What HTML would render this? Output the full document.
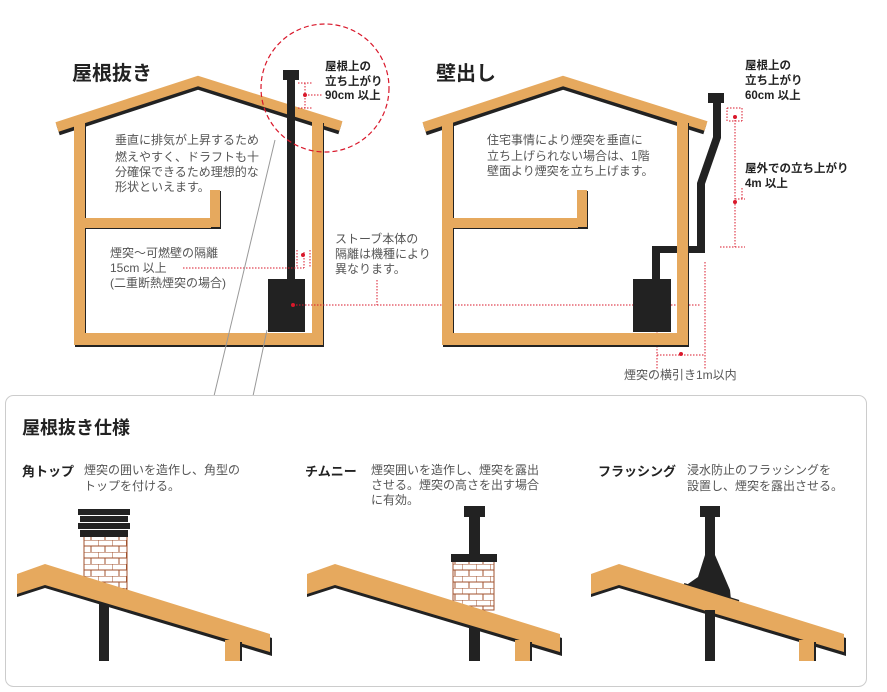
<!DOCTYPE html>
<html><head><meta charset="utf-8">
<style>
html,body{margin:0;padding:0;background:#fff;}
svg{display:block;font-family:"Liberation Sans","Noto Sans CJK JP",sans-serif;}
.t{font-size:12px;fill:#555;}
.b{font-size:11.5px;fill:#222;font-weight:bold;}
</style></head><body>
<svg width="887" height="692" viewBox="0 0 887 692" xmlns="http://www.w3.org/2000/svg">
<rect width="887" height="692" fill="#fff"/>
<defs>
<pattern id="brick" width="14" height="12" patternUnits="userSpaceOnUse">
<rect width="14" height="12" fill="#fff"/>
<path d="M0 0H14M0 6H14M0 0V6M7 6V12" stroke="#a0522d" stroke-width="1" fill="none"/>
</pattern>
</defs>

<!-- House 1 -->
<g>
<polyline points="58,130 198,84 340,129" fill="none" stroke="#222" stroke-width="11" stroke-linejoin="miter"/>
<polyline points="57,127 198,81 341,126" fill="none" stroke="#e6a95e" stroke-width="10" stroke-linejoin="miter"/>
<rect x="75" y="123" width="11" height="224" fill="#222"/>
<rect x="74" y="122" width="11" height="223" fill="#e6a95e"/>
<rect x="313" y="123" width="11" height="224" fill="#222"/>
<rect x="312" y="122" width="11" height="223" fill="#e6a95e"/>
<rect x="75" y="335" width="249" height="12" fill="#222"/>
<rect x="74" y="333" width="249" height="12" fill="#e6a95e"/>
<rect x="85" y="219" width="136" height="10" fill="#222"/>
<rect x="85" y="218" width="135" height="10" fill="#e6a95e"/>
<rect x="211" y="191" width="10" height="37" fill="#222"/>
<rect x="210" y="190" width="10" height="37" fill="#e6a95e"/>
<rect x="287" y="70" width="8" height="210" fill="#222"/>
<rect x="283" y="70" width="16" height="10" fill="#222"/>
<rect x="268" y="279" width="37" height="53" fill="#222"/>
</g>
<circle cx="325" cy="88" r="64" fill="none" stroke="#d9182b" stroke-width="1.2" stroke-dasharray="5,3"/>
<g stroke="#d9182b" stroke-width="1" stroke-dasharray="1.5,1.5" fill="none">
<path d="M298 83H312M298 108H312M305 83V108M305 95H322"/>
<path d="M297 250V268M310 250V268M304 252V268M183 268H304"/>
<path d="M293 305H700M377 280V305"/>
<path d="M657 262V370M705 262V370M657 355H705"/>
<path d="M727 108H742M727 121V108M735 117V247M720 247H745M735 199H745M742 188V199M729 121H742M742 108V121"/>
</g>
<g fill="#d9182b"><circle cx="305" cy="95" r="2"/><circle cx="303" cy="255" r="2"/><circle cx="293" cy="305" r="2"/><circle cx="645" cy="305" r="2"/><circle cx="681" cy="354" r="2"/><circle cx="735" cy="117" r="2"/><circle cx="735" cy="202" r="2"/></g>

<text x="72" y="80" style="font-size:20px;font-weight:bold;fill:#222">屋根抜き</text>
<text class="t"><tspan x="115" y="144">垂直に排気が上昇するため</tspan><tspan x="115" y="161">燃えやすく、ドラフトも十</tspan><tspan x="115" y="176">分確保できるため理想的な</tspan><tspan x="115" y="191">形状といえます。</tspan></text>
<text class="t"><tspan x="110" y="257">煙突～可燃壁の隔離</tspan><tspan x="110" y="272">15cm 以上</tspan><tspan x="110" y="287">(二重断熱煙突の場合)</tspan></text>
<text class="b"><tspan x="325" y="70">屋根上の</tspan><tspan x="325" y="85">立ち上がり</tspan><tspan x="325" y="99">90cm 以上</tspan></text>
<text class="t"><tspan x="335" y="243">ストーブ本体の</tspan><tspan x="335" y="258">隔離は機種により</tspan><tspan x="335" y="273">異なります。</tspan></text>

<!-- House 2 -->
<g>
<polyline points="425,130 563,84 705,129" fill="none" stroke="#222" stroke-width="11"/>
<polyline points="424,127 563,81 706,126" fill="none" stroke="#e6a95e" stroke-width="10"/>
<rect x="443" y="123" width="11" height="224" fill="#222"/>
<rect x="442" y="122" width="11" height="223" fill="#e6a95e"/>
<rect x="678" y="123" width="11" height="224" fill="#222"/>
<rect x="677" y="122" width="11" height="223" fill="#e6a95e"/>
<rect x="443" y="335" width="246" height="12" fill="#222"/>
<rect x="442" y="333" width="246" height="12" fill="#e6a95e"/>
<rect x="453" y="219" width="135" height="10" fill="#222"/>
<rect x="452" y="218" width="135" height="10" fill="#e6a95e"/>
<rect x="578" y="191" width="10" height="37" fill="#222"/>
<rect x="577" y="190" width="10" height="37" fill="#e6a95e"/>
<rect x="708" y="93" width="16" height="10" fill="#222"/>
<polygon points="713,102 721,102 721,138 705,184 705,253 697,253 697,183 713,137" fill="#222"/>
<rect x="688" y="246" width="17" height="7" fill="#222"/>
<rect x="652" y="246" width="25" height="7" fill="#222"/>
<rect x="652" y="246" width="8" height="34" fill="#222"/>
<rect x="633" y="279" width="38" height="53" fill="#222"/>
</g>
<text x="436" y="80" style="font-size:20px;font-weight:bold;fill:#222">壁出し</text>
<text class="t"><tspan x="487" y="144">住宅事情により煙突を垂直に</tspan><tspan x="487" y="160">立ち上げられない場合は、1階</tspan><tspan x="487" y="175">壁面より煙突を立ち上げます。</tspan></text>
<text class="b"><tspan x="745" y="69">屋根上の</tspan><tspan x="745" y="84">立ち上がり</tspan><tspan x="745" y="99">60cm 以上</tspan></text>
<text class="b"><tspan x="745" y="172">屋外での立ち上がり</tspan><tspan x="745" y="187">4m 以上</tspan></text>
<text class="t" x="624" y="379">煙突の横引き1m以内</text>

<!-- connector lines -->
<path d="M275 140L214 396M267 330L253 396" stroke="#999" stroke-width="1" fill="none"/>

<!-- Bottom box -->
<rect x="5.5" y="395.5" width="861" height="291" rx="8" fill="#fff" stroke="#ccc"/>
<text x="22" y="434" style="font-size:18px;font-weight:bold;fill:#222">屋根抜き仕様</text>
<text x="22" y="476" style="font-size:13px;font-weight:bold;fill:#222">角トップ</text>
<text class="t"><tspan x="84" y="474">煙突の囲いを造作し、角型の</tspan><tspan x="84" y="490">トップを付ける。</tspan></text>
<text x="305" y="476" style="font-size:13px;font-weight:bold;fill:#222">チムニー</text>
<text class="t"><tspan x="371" y="474">煙突囲いを造作し、煙突を露出</tspan><tspan x="371" y="489">させる。煙突の高さを出す場合</tspan><tspan x="371" y="504">に有効。</tspan></text>
<text x="598" y="476" style="font-size:13px;font-weight:bold;fill:#222">フラッシング</text>
<text class="t"><tspan x="687" y="474">浸水防止のフラッシングを</tspan><tspan x="687" y="490">設置し、煙突を露出させる。</tspan></text>

<!-- panel 1 -->
<g>
<rect x="84" y="536" width="43" height="54" fill="url(#brick)" stroke="#a0522d"/>
<rect x="99" y="585" width="10" height="76" fill="#222"/>
<g fill="#222"><rect x="78" y="509" width="52" height="6"/><rect x="80" y="516" width="48" height="6"/><rect x="78" y="523" width="52" height="6"/><rect x="80" y="530" width="48" height="7"/></g>
<g id="roof1">
<polygon points="17,577 45,567 272,638 272,656 45,588 17,597" fill="#222"/>
<polygon points="17,574 45,564 270,634 270,652 45,585 17,594" fill="#e6a95e"/>
<rect x="227" y="642" width="15" height="19" fill="#222"/>
<rect x="225" y="640" width="15" height="21" fill="#e6a95e"/>
</g>
</g>
<!-- panel 2 -->
<g>
<rect x="469" y="515" width="11" height="146" fill="#222"/>
<rect x="464" y="506" width="21" height="11" fill="#222"/>
<rect x="453" y="560" width="41" height="50" fill="url(#brick)" stroke="#a0522d"/>
<rect x="451" y="554" width="46" height="8" fill="#222"/>
<g transform="translate(290,0)">
<polygon points="17,577 45,567 272,638 272,656 45,588 17,597" fill="#222"/>
<polygon points="17,574 45,564 270,634 270,652 45,585 17,594" fill="#e6a95e"/>
<rect x="227" y="642" width="15" height="19" fill="#222"/>
<rect x="225" y="640" width="15" height="21" fill="#e6a95e"/>
</g>
<rect x="469" y="630" width="11" height="31" fill="#222"/>
</g>
<!-- panel 3 -->
<g>
<rect x="705" y="515" width="10" height="146" fill="#222"/>
<rect x="700" y="506" width="20" height="11" fill="#222"/>
<polygon points="705,555 715,555 730,590 731,600 685,586 698,577" fill="#222"/>
<path d="M684 584L739 601" stroke="#222" stroke-width="2"/>
<g transform="translate(574,0)">
<polygon points="17,577 45,567 272,638 272,656 45,588 17,597" fill="#222"/>
<polygon points="17,574 45,564 270,634 270,652 45,585 17,594" fill="#e6a95e"/>
<rect x="227" y="642" width="15" height="19" fill="#222"/>
<rect x="225" y="640" width="15" height="21" fill="#e6a95e"/>
</g>
<rect x="705" y="610" width="10" height="51" fill="#222"/>
</g>
</svg>
</body></html>
